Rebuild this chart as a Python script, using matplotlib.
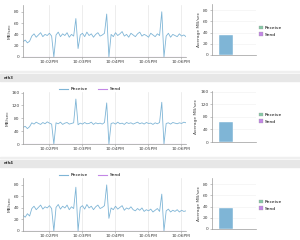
import numpy as np
import pandas as pd
import matplotlib
matplotlib.use("Agg")
import matplotlib.pyplot as plt
import matplotlib.dates as mdates
from matplotlib.patches import Rectangle
from matplotlib.lines import Line2D

# sample times: every 4 s from 10:01:13
t0 = "2024-01-01 22:01:13"
step = "4s"

# eth (top, name cut off)
recv_top = [27, 30, 25, 28, 37, 41, 35, 39, 43, 36, 40, 38, 42, 37, 0,
            39, 44, 36, 41, 38, 43, 35, 40, 37, 68, 15, 39, 42, 36, 44,
            38, 41, 35, 40, 43, 37, 39, 42, 76, 0, 40, 36, 43, 38, 41,
            45, 37, 40, 35, 42, 39, 36, 41, 44, 37, 40, 38, 35, 42, 39,
            36, 41, 38, 80, 0, 37, 42, 35, 40, 38, 36, 41, 37, 39, 36]
send_top = [0.3] * 75

# eth3
recv_eth3 = [52, 55, 48, 54, 66, 62, 68, 64, 61, 67, 63, 69, 65, 62, 0,
             66, 63, 68, 61, 65, 67, 62, 64, 66, 140, 60, 65, 62, 67, 63,
             64, 68, 61, 66, 63, 65, 62, 67, 128, 0, 64, 66, 62, 68, 63,
             65, 61, 67, 64, 66, 62, 65, 68, 63, 66, 62, 67, 64, 65, 61,
             66, 63, 67, 130, 0, 64, 66, 62, 67, 65, 63, 66, 64, 68, 66]
send_eth3 = [0.5] * 75

# eth4
recv_eth4 = [27, 24, 30, 26, 39, 43, 37, 41, 45, 38, 42, 40, 44, 39, 0,
             41, 46, 38, 43, 40, 45, 37, 42, 39, 76, 0, 41, 44, 38, 46,
             40, 43, 37, 42, 45, 39, 41, 44, 80, 22, 40, 37, 43, 38, 41,
             44, 36, 40, 38, 42, 37, 35, 39, 36, 40, 34, 37, 35, 38, 33,
             36, 39, 34, 64, 0, 35, 38, 33, 36, 34, 37, 33, 36, 34, 35]
send_eth4 = [0.3] * 75

# averages shown in the bar charts
avg_recv = [36, 65, 37]
avg_send = [0.4, 0.5, 0.4]

ylims = [92, 162, 92]
yticks = [[0, 20, 40, 60, 80], [0, 40, 80, 120, 160], [0, 20, 40, 60, 80]]
bar_ylims = [91, 162, 91]

recv_color = "#7fb5d6"
send_color = "#c387e6"
legend_recv = "#86c9a6"
axis_col = "#9a9a9a"
fs = 3.2

plt.rcParams["font.family"] = ["DejaVu Sans"]
fig = plt.figure(figsize=(3.0, 2.4), dpi=100)

H = 240.0
W = 300.0

def fx(px):
    return px / W

def fy(px):
    return 1 - px / H

# header bands
for top, bot, label in [(74, 81, "eth3"), (160, 167, "eth4")]:
    fig.patches.append(Rectangle((0, fy(bot)), 1, (bot - top) / H,
                                 transform=fig.transFigure, color="#e7e7e7", zorder=0))
    fig.text(fx(4), fy((top + bot) / 2), label, fontsize=2.8, weight="bold",
             color="#333333", va="center", ha="left")
for y in [71, 157]:
    fig.patches.append(Rectangle((0, fy(y + 1)), 1, 1 / H,
                                 transform=fig.transFigure, color="#efefef", zorder=0))

line_boxes = [(5, 57), (92, 144), (178, 231)]
bar_boxes = [(4, 55), (91, 142), (178, 229)]
recvs = [recv_top, recv_eth3, recv_eth4]
sends = [send_top, send_eth3, send_eth4]

tick_times = pd.to_datetime(["2024-01-01 22:02", "2024-01-01 22:03", "2024-01-01 22:04",
                             "2024-01-01 22:05", "2024-01-01 22:06"])
xmin = pd.Timestamp("2024-01-01 22:01:13")
xmax = pd.Timestamp("2024-01-01 22:06:09")


def style_axes(ax):
    for s in ["top", "right"]:
        ax.spines[s].set_visible(False)
    for s in ["left", "bottom"]:
        ax.spines[s].set_color(axis_col)
        ax.spines[s].set_linewidth(0.5)
    ax.tick_params(labelsize=fs, length=1.5, width=0.4, pad=1,
                   color=axis_col, labelcolor="#444444")


for k in range(3):
    top, bot = line_boxes[k]
    ax = fig.add_axes([fx(23), fy(bot), fx(186 - 23), (bot - top) / H])
    times = pd.date_range(t0, periods=len(recvs[k]), freq=step)
    ax.plot(times, recvs[k], color=recv_color, lw=0.6)
    ax.plot(times, sends[k], color=send_color, lw=0.8)
    ax.set_xlim(xmin, xmax)
    ax.set_ylim(0, ylims[k])
    ax.set_yticks(yticks[k])
    ax.set_xticks(tick_times)
    ax.xaxis.set_major_formatter(mdates.DateFormatter("%I:%M%p"))
    ax.grid(axis="x", color="#e6e6e6", lw=0.5)
    ax.set_axisbelow(True)
    style_axes(ax)
    ax.set_ylabel("MB/sec", fontsize=fs, color="#444444", labelpad=1.5)
    if k > 0:
        handles = [Line2D([], [], color=recv_color, lw=0.8),
                   Line2D([], [], color=send_color, lw=0.8)]
        ax.legend(handles, ["Receive", "Send"], loc="lower center",
                  bbox_to_anchor=(0.41, 0.97), ncol=2, frameon=False,
                  fontsize=fs, handlelength=2.0, handletextpad=0.6,
                  columnspacing=2.2, borderpad=0)

    btop, bbot = bar_boxes[k]
    bx = fig.add_axes([fx(212), fy(bbot), fx(256 - 212), (bbot - btop) / H])
    bx.bar([0, 1], [avg_recv[k], avg_send[k]], width=1.0,
           color=[recv_color, send_color], edgecolor="white", lw=0.3)
    bx.set_xlim(-1.0, 2.14)
    bx.set_ylim(0, bar_ylims[k])
    bx.set_yticks(yticks[k])
    bx.set_xticks([])
    bx.grid(axis="y", color="#f0f0f0", lw=0.4)
    bx.set_axisbelow(True)
    style_axes(bx)
    bx.set_ylabel("Average MB/sec", fontsize=fs, color="#444444", labelpad=1.5)
    handles = [Rectangle((0, 0), 1, 1, color=legend_recv, ec="#999999", lw=0.2),
               Rectangle((0, 0), 1, 1, color=send_color, ec="#999999", lw=0.2)]
    bx.legend(handles, ["Receive", "Send"], loc="center left",
              bbox_to_anchor=(1.02, 0.47), frameon=False, fontsize=fs,
              handlelength=0.9, handleheight=0.9, handletextpad=0.4,
              labelspacing=0.5, borderpad=0)

fig.savefig("out.png", dpi=100)
